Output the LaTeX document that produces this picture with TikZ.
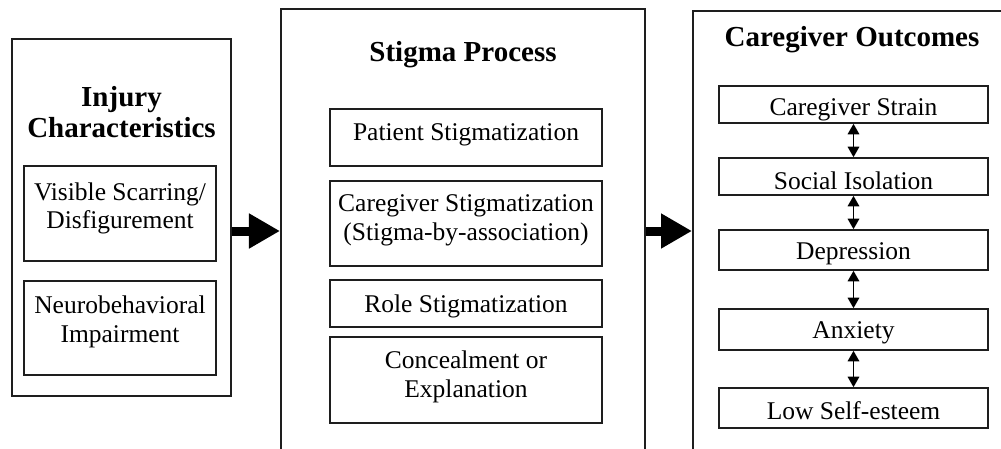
\documentclass[tikz,border=0pt]{standalone}
\usepackage{fontspec}
\setmainfont{Liberation Serif}
\usetikzlibrary{arrows.meta}
\definecolor{boxline}{HTML}{1E1E1E}

\begin{document}
\begin{tikzpicture}[x=0.4pt, y=-0.4pt,
  outer/.style={draw=boxline, line width=0.8pt, inner sep=0pt},
  inbox/.style={draw=boxline, line width=0.65pt, inner sep=0pt, align=center,
    font=\fontsize{10.2}{11.4}\selectfont},
  txt/.style={align=center, font=\fontsize{10.2}{11.4}\selectfont},
  title/.style={align=center, font=\fontsize{11.6}{12.2}\selectfont\bfseries},
  bigarrow/.style={line width=3.6pt, -{Triangle[length=12.4pt,width=13.2pt]}},
  duo/.style={line width=0.7pt, {Triangle[length=4.2pt,width=4.6pt]}-{Triangle[length=4.2pt,width=4.6pt]}}]
  \useasboundingbox (0,0) rectangle (1001,448);
  \clip (0,0) rectangle (1001,448);

  % panels
  \node[outer, minimum width=87.6pt, minimum height=142.8pt] (injury) at (121.5,217.5) {};
  \node[outer, minimum width=145.6pt, minimum height=177.6pt] (stigma) at (463,231) {};
  \node[outer, minimum width=134.8pt, minimum height=176pt] (outcomes) at (861.5,231) {};

  \node[title] (injurytitle) at (121.5,112) {Injury\\Characteristics};
  \node[title] (stigmatitle) at (463,55) {Stigma Process};
  \node[title] (outcomestitle) at (852,40) {Caregiver Outcomes};

  % injury characteristics
  \node[inbox, minimum width=76.8pt, minimum height=38pt,
    label={[txt, yshift=2pt]center:{Visible Scarring/\\Disfigurement}}] (visible) at (120,213.5) {};
  \node[inbox, minimum width=76.8pt, minimum height=37.6pt,
    label={[txt, yshift=2.4pt]center:{Neurobehavioral\\Impairment}}] (neuro) at (120,328) {};

  % stigma process
  \node[inbox, minimum width=108.8pt, minimum height=22.8pt,
    label={[txt, yshift=1.2pt]center:{Patient Stigmatization}}] (patient) at (466,137.5) {};
  \node[inbox, minimum width=108.8pt, minimum height=34pt,
    label={[txt, yshift=1.2pt]center:{Caregiver Stigmatization\\(Stigma-by-association)}}] (caregiver) at (466,223.5) {};
  \node[inbox, minimum width=108.8pt, minimum height=18.8pt,
    label={[txt, yshift=-1.2pt]center:{Role Stigmatization}}] (role) at (466,303.5) {};
  \node[inbox, minimum width=108.8pt, minimum height=34.4pt,
    label={[txt, yshift=1.2pt]center:{Concealment or\\Explanation}}] (conceal) at (466,380) {};

  % caregiver outcomes
  \node[inbox, minimum width=107.6pt, minimum height=14.8pt,
    label={[txt, yshift=-2pt]center:{Caregiver Strain}}] (strain) at (853.5,104.5) {};
  \node[inbox, minimum width=107.6pt, minimum height=14.8pt,
    label={[txt, yshift=-1.6pt]center:{Social Isolation}}] (isolation) at (853.5,176.5) {};
  \node[inbox, minimum width=107.6pt, minimum height=16pt,
    label={[txt, yshift=-1.6pt]center:{Depression}}] (depression) at (853.5,250) {};
  \node[inbox, minimum width=107.6pt, minimum height=16.4pt,
    label={[txt, yshift=-1.4pt]center:{Anxiety}}] (anxiety) at (853.5,329.5) {};
  \node[inbox, minimum width=107.6pt, minimum height=16pt,
    label={[txt, yshift=-1pt]center:{Low Self-esteem}}] (esteem) at (853.5,408) {};

  \foreach \a/\b in {strain/isolation, isolation/depression, depression/anxiety, anxiety/esteem}
    \draw[duo] (\a) -- (\b);

  % flow between panels
  \draw[bigarrow] (injury.east |- stigma.west) -- (stigma.west);
  \draw[bigarrow] (stigma.east) -- (outcomes.west);
\end{tikzpicture}
\end{document}
